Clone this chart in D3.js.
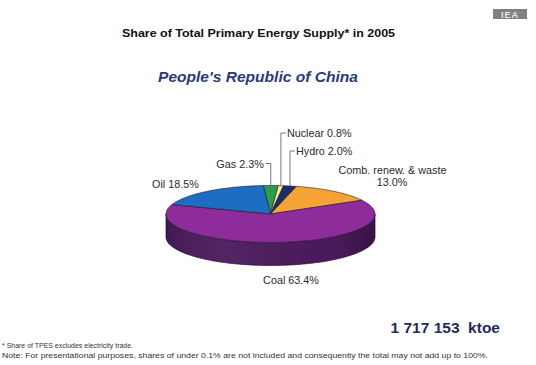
<!DOCTYPE html>
<html>
<head>
<meta charset="utf-8">
<script src="https://cdn.jsdelivr.net/npm/d3@7/dist/d3.min.js"></script>
<style>
  html, body { margin: 0; padding: 0; background: #fff; }
  svg { display: block; font-family: "Liberation Sans", Arial, sans-serif; }
</style>
</head>
<body>
<svg id="chart" width="536" height="365"></svg>
<script>
// Share of TPES, People's Republic of China, 2005 (clockwise from top)
const sources = ["Gas", "Nuclear", "Hydro", "Comb. renew. & waste", "Coal", "Oil"];
const shares  = [2.3, 0.8, 2.0, 13.0, 63.4, 18.5];
const topColors  = ["#2d9c4a", "#f2ef8e", "#1f2b6c", "#f6a336", "#8d2c9a", "#1d6dc2"];
const sideColors = ["#1e6a32", "#a9a65e", "#141c48", "#b0701e", "#4b1a5c", "#124a86"];
const totalLabel = "1 717 153  ktoe";

const svg = d3.select("#chart");
const fmt = d => d.toFixed(1) + "%";

// Pie geometry (tilted ellipse with an extruded rim)
const cx = 270.5, cy = 214, rx = 104.5, ry = 28.5, depth = 23;
const deg = Math.PI / 180;

const pie = d3.pie().sort(null).value(d => d)
  .startAngle(-4 * deg).endAngle(356 * deg);
const arcs = pie(shares);

const px = a => cx + rx * Math.sin(a);
const py = a => cy - ry * Math.cos(a);

function topPath(a0, a1) {
  const n = Math.max(2, Math.ceil((a1 - a0) / (1 * deg)));
  const p = d3.path();
  p.moveTo(cx, cy);
  for (let i = 0; i <= n; i++) {
    const a = a0 + (a1 - a0) * i / n;
    p.lineTo(px(a), py(a));
  }
  p.closePath();
  return p.toString();
}

function sidePath(a0, a1) {
  const lo = Math.max(a0, 90 * deg), hi = Math.min(a1, 270 * deg);
  if (hi <= lo) return null;
  const n = Math.max(2, Math.ceil((hi - lo) / (1 * deg)));
  const p = d3.path();
  for (let i = 0; i <= n; i++) {
    const a = lo + (hi - lo) * i / n;
    i === 0 ? p.moveTo(px(a), py(a)) : p.lineTo(px(a), py(a));
  }
  for (let i = n; i >= 0; i--) {
    const a = lo + (hi - lo) * i / n;
    p.lineTo(px(a), py(a) + depth);
  }
  p.closePath();
  return p.toString();
}

// soft shading across the rim
const defs = svg.append("defs");
const grad = defs.append("linearGradient").attr("id", "rimShade")
  .attr("x1", "0").attr("x2", "1").attr("y1", "0").attr("y2", "0");
grad.append("stop").attr("offset", "0").attr("stop-color", "#000").attr("stop-opacity", 0.12);
grad.append("stop").attr("offset", "0.35").attr("stop-color", "#fff").attr("stop-opacity", 0.04);
grad.append("stop").attr("offset", "0.8").attr("stop-color", "#000").attr("stop-opacity", 0.0);
grad.append("stop").attr("offset", "1").attr("stop-color", "#000").attr("stop-opacity", 0.25);

const gPie = svg.append("g");
arcs.forEach((d, i) => {
  const s = sidePath(d.startAngle, d.endAngle);
  if (s) {
    gPie.append("path").attr("d", s).attr("fill", sideColors[i])
      .attr("stroke", "#2a0e33").attr("stroke-width", 0.7).attr("stroke-linejoin", "round");
    gPie.append("path").attr("d", s).attr("fill", "url(#rimShade)");
  }
});
arcs.forEach((d, i) => {
  gPie.append("path").attr("d", topPath(d.startAngle, d.endAngle))
    .attr("fill", topColors[i])
    .attr("stroke", "#1a1a2a").attr("stroke-width", 0.6).attr("stroke-linejoin", "round");
});

// Titles
svg.append("text").attr("x", 258.5).attr("y", 36.5).attr("text-anchor", "middle")
  .attr("font-size", 11.4).attr("font-weight", "bold").attr("fill", "#111")
  .attr("textLength", 273).attr("lengthAdjust", "spacingAndGlyphs")
  .text("Share of Total Primary Energy Supply* in 2005");
svg.append("text").attr("x", 258).attr("y", 81.5).attr("text-anchor", "middle")
  .attr("font-size", 15.2).attr("font-weight", "bold").attr("font-style", "italic")
  .attr("fill", "#2b3a7c")
  .attr("textLength", 200).attr("lengthAdjust", "spacingAndGlyphs")
  .text("People's Republic of China");

// Logo block
svg.append("rect").attr("x", 493).attr("y", 9).attr("width", 34).attr("height", 10)
  .attr("fill", "#7f8184");
svg.append("text").attr("x", 510).attr("y", 17.5).attr("text-anchor", "middle")
  .attr("font-size", 9).attr("font-weight", "bold").attr("fill", "#e8e8e8")
  .attr("letter-spacing", 1).text("IEA");

// Labels
const lab = svg.append("g").attr("font-size", 10.8).attr("fill", "#2a2a2a");
const mid = d => (d.startAngle + d.endAngle) / 2;
const lineStyle = sel => sel.attr("stroke", "#555").attr("stroke-width", 0.8).attr("fill", "none");

// Gas: label left, leader hooks down to the pie
{
  const d = arcs[0], x = px(mid(d)), y = py(mid(d));
  lineStyle(lab.append("path").attr("d", `M${x},${y} V163.5 H${x - 5}`));
  lab.append("text").attr("x", x - 7).attr("y", 168).attr("text-anchor", "end")
    .text(`${sources[0]} ${fmt(shares[0])}`);
}
// Nuclear
{
  const d = arcs[1], x = px(mid(d)), y = py(mid(d));
  lineStyle(lab.append("path").attr("d", `M${x},${y} V133 H${x + 5}`));
  lab.append("text").attr("x", x + 6).attr("y", 137)
    .text(`${sources[1]} ${fmt(shares[1])}`);
}
// Hydro
{
  const d = arcs[2], x = px(mid(d)), y = py(mid(d));
  lineStyle(lab.append("path").attr("d", `M${x},${y} V151 H${x + 5}`));
  lab.append("text").attr("x", x + 6).attr("y", 155)
    .text(`${sources[2]} ${fmt(shares[2])}`);
}
// Combustible renewables & waste (two lines)
lab.append("text").attr("x", 392.5).attr("y", 174).attr("text-anchor", "middle")
  .text(sources[3]);
lab.append("text").attr("x", 392).attr("y", 186).attr("text-anchor", "middle")
  .text(fmt(shares[3]));
// Coal
lab.append("text").attr("x", 291).attr("y", 284).attr("text-anchor", "middle")
  .text(`${sources[4]} ${fmt(shares[4])}`);
// Oil
lab.append("text").attr("x", 152).attr("y", 188)
  .text(`${sources[5]} ${fmt(shares[5])}`);

// Total
svg.append("text").attr("x", 500).attr("y", 333).attr("text-anchor", "end")
  .attr("font-size", 15.5).attr("font-weight", "bold").attr("fill", "#1f2c5c")
  .attr("xml:space", "preserve").style("white-space", "pre")
  .text(totalLabel);

// Footnotes
const notes = svg.append("g").attr("font-size", 7.2).attr("fill", "#333");
notes.append("text").attr("x", 2).attr("y", 348)
  .attr("textLength", 131).attr("lengthAdjust", "spacingAndGlyphs")
  .text("* Share of TPES excludes electricity trade.");
notes.append("text").attr("x", 2).attr("y", 357.5)
  .attr("textLength", 486).attr("lengthAdjust", "spacingAndGlyphs")
  .text("Note: For presentational purposes, shares of under 0.1% are not included and consequently the total may not add up to 100%.");
</script>
</body>
</html>
